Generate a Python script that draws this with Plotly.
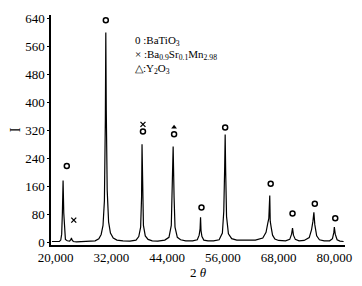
import plotly.graph_objects as go

# XRD pattern (2θ in degrees, intensity)
two_theta = [19.2, 20.0, 20.8, 21.1, 21.3, 21.45, 21.6, 21.75, 21.9, 22.1, 22.5, 23.0, 23.3, 23.4, 23.5,
             23.8, 24.5, 25.5, 26.5, 27.5, 28.5, 29.3, 29.8, 30.2, 30.5, 30.7, 30.8, 30.9, 31.1, 31.4,
             31.8, 32.4, 33.2, 34.5, 36.0, 37.3, 37.9, 38.3, 38.5, 38.6, 38.7, 38.9, 39.3, 39.9, 40.8,
             42.0, 43.5, 44.4, 44.9, 45.1, 45.3, 45.5, 45.7, 46.2, 46.9, 48.0, 49.5, 50.5, 50.9, 51.1,
             51.2, 51.3, 51.5, 51.9, 52.8, 54.0, 55.2, 55.9, 56.2, 56.4, 56.5, 56.6, 56.8, 57.2, 57.9,
             59.0, 61.0, 63.0, 64.6, 65.3, 65.7, 65.9, 66.1, 66.2, 66.4, 66.7, 67.2, 68.0, 69.5, 70.4,
             70.8, 71.0, 71.2, 71.6, 72.4, 73.5, 74.6, 75.1, 75.4, 75.6, 75.8, 76.2, 76.8, 77.8, 79.0,
             79.6, 79.9, 80.0, 80.2, 80.6, 81.2, 82.0]
intensity = [4, 5, 4, 8, 25, 85, 178, 85, 28, 10, 6, 5, 10, 14, 9,
             4, 3, 4, 4, 5, 6, 12, 24, 50, 120, 350, 600, 380, 150, 60,
             28, 14, 8, 6, 5, 8, 18, 45, 130, 281, 150, 50, 20, 10, 6,
             5, 8, 16, 50, 140, 275, 130, 45, 16, 9, 6, 6, 9, 22, 40,
             73, 35, 18, 8, 6, 6, 9, 28, 90, 220, 309, 210, 75, 26, 12,
             8, 7, 8, 14, 30, 58, 70, 135, 62, 45, 22, 11, 7, 6, 10,
             25, 42, 22, 10, 6, 7, 15, 38, 62, 87, 52, 20, 9, 6, 6,
             12, 30, 45, 25, 9, 5, 4]

# Phase markers
batio3_x = [22.4, 30.8, 38.8, 45.5, 51.4, 56.5, 66.3, 71.0, 75.8, 80.2]
batio3_y = [219, 635, 318, 310, 101, 329, 169, 84, 112, 70]
basr_x = [23.9, 38.8]
basr_y = [65, 338]
y2o3_x = [45.5]
y2o3_y = [330]

x_tick_vals = [20, 32, 44, 56, 68, 80]
x_tick_text = ["20,000", "32,000", "44,000", "56,000", "68,000", "80,000"]
y_tick_vals = [0, 80, 160, 240, 320, 400, 480, 560, 640]

serif = "Liberation Serif"

fig = go.Figure()
fig.add_trace(go.Scatter(x=two_theta, y=intensity, mode="lines",
                         line=dict(color="black", width=1.2), showlegend=False))
fig.add_trace(go.Scatter(x=batio3_x, y=batio3_y, mode="markers",
                         marker=dict(symbol="circle-open", size=5, color="black",
                                     line=dict(width=1.5, color="black")), showlegend=False))
fig.add_trace(go.Scatter(x=basr_x, y=basr_y, mode="markers",
                         marker=dict(symbol="x-thin-open", size=5, color="black",
                                     line=dict(width=1.3, color="black")), showlegend=False))
fig.add_trace(go.Scatter(x=y2o3_x, y=y2o3_y, mode="markers",
                         marker=dict(symbol="triangle-up", size=5, color="black"), showlegend=False))

legend_lines = ["0 :BaTiO<sub>3</sub>",
                "× :Ba<sub>0.9</sub>Sr<sub>0.1</sub>Mn<sub>2.98</sub>",
                "△:Y<sub>2</sub>O<sub>3</sub>"]
legend_y = [37, 52, 66]
for txt, py in zip(legend_lines, legend_y):
    fig.add_annotation(text=txt, xref="paper", yref="paper",
                       x=(128 - 44) / 301, y=1 - (py - 11) / 234,
                       xanchor="left", yanchor="middle", showarrow=False,
                       font=dict(family=serif, size=11, color="black"))

# The page body has an 8px default margin, so the figure is sized to compensate.
fig.update_layout(
    width=354, height=278,
    margin=dict(l=36, r=17, t=3, b=41),
    paper_bgcolor="white", plot_bgcolor="white",
    font=dict(family=serif, size=12, color="black"),
    xaxis=dict(range=[19.0, 82.3], tickvals=x_tick_vals, ticktext=x_tick_text,
               showgrid=False, zeroline=False, showline=True, linecolor="black", linewidth=1.5,
               ticks="", ticklabeloverflow="allow",
               tickfont=dict(family=serif, size=13, color="black"),
               title=dict(text="2 <i>θ</i>", font=dict(family=serif, size=13, color="black"), standoff=2)),
    yaxis=dict(range=[-6, 650], tickvals=y_tick_vals,
               showgrid=False, zeroline=False, showline=True, linecolor="black", linewidth=1.5,
               ticks="outside", ticklen=2, tickcolor="black", ticklabeloverflow="allow",
               tickfont=dict(family=serif, size=13, color="black"),
               title=dict(text="I", font=dict(family=serif, size=14, color="black"), standoff=4)),
)

fig.write_html("out.html")
